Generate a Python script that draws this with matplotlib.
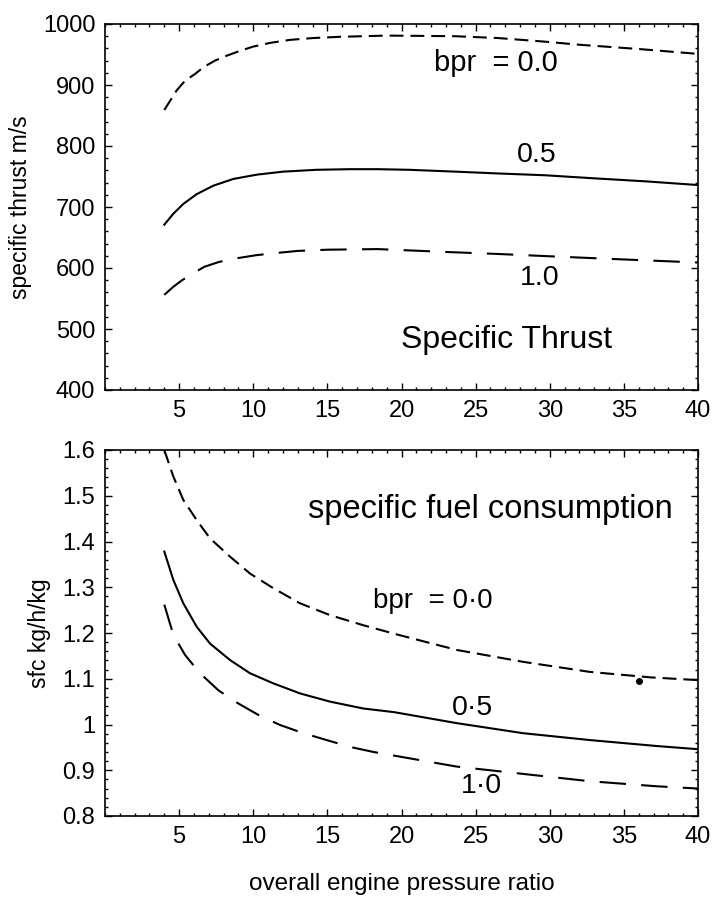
import matplotlib
matplotlib.use("Agg")
import matplotlib.pyplot as plt
from matplotlib.ticker import MultipleLocator

plt.rcParams['font.family'] = ['Liberation Sans', 'DejaVu Sans']
plt.rcParams['lines.scale_dashes'] = False

# ---- data: specific thrust (m/s) vs overall pressure ratio ----
opr_t0 = [4.0, 4.83, 5.40, 6.07, 6.63, 7.42, 8.21, 9.11, 10.0, 11.13, 12.48, 14.05,
          15.85, 19.0, 23.6, 26.5, 29.7, 32.0, 36.0, 40.0]
thrust_bpr0 = [859, 891, 907, 918, 929, 940, 948, 956, 963, 969, 974, 977,
               979, 981, 980, 977, 971, 966, 959, 951]
opr_t5 = [4.0, 4.61, 5.28, 6.18, 7.31, 8.66, 10.23, 12.03, 14.28, 16.53, 18.4, 20.5,
          23.6, 26.5, 29.7, 33.0, 36.5, 40.0]
thrust_bpr05 = [671, 689, 705, 721, 735, 746, 753, 758, 761, 762, 762, 761,
                758, 755, 752, 747, 742, 736]
opr_t1 = [4.0, 4.6, 5.2, 6.0, 6.7, 7.7, 8.9, 10.2, 11.3, 13.0, 15.0, 18.4,
          23.3, 26.5, 30.2, 35.0, 40.0]
thrust_bpr10 = [556, 569, 580, 592, 602, 610, 616, 621, 624, 628, 630, 631,
                626, 623, 619, 614, 609]

# ---- data: sfc (kg/h/kg) vs overall pressure ratio ----
opr_s0 = [4.0, 4.61, 5.28, 6.18, 7.08, 8.43, 9.78, 11.35, 13.15, 15.18, 17.42, 19.67,
          23.72, 28.2, 32.7, 36.8, 40.0]
sfc_bpr0 = [1.600, 1.542, 1.491, 1.447, 1.407, 1.367, 1.330, 1.298, 1.265, 1.239, 1.217, 1.197,
            1.163, 1.137, 1.115, 1.103, 1.097]
opr_s5 = [4.0, 4.61, 5.28, 6.18, 7.08, 8.43, 9.78, 11.35, 13.15, 15.18, 17.42, 19.5,
          23.72, 28.2, 32.7, 37.2, 40.0]
sfc_bpr05 = [1.378, 1.316, 1.265, 1.214, 1.177, 1.141, 1.112, 1.090, 1.068, 1.050, 1.035, 1.027,
             1.003, 0.981, 0.966, 0.953, 0.946]
opr_s1 = [4.0, 4.61, 5.40, 6.41, 7.64, 8.99, 10.34, 11.80, 13.38, 14.95, 16.53, 18.1, 19.5,
          23.72, 28.2, 32.7, 37.2, 40.0]
sfc_bpr10 = [1.262, 1.196, 1.152, 1.112, 1.075, 1.046, 1.021, 0.999, 0.981, 0.966, 0.951, 0.940, 0.932,
             0.908, 0.892, 0.876, 0.865, 0.860]

dot_opr = [36.0]
dot_sfc = [1.094]

xticks = [5, 10, 15, 20, 25, 30, 35, 40]

fig = plt.figure(figsize=(7.12, 8.97), dpi=100)
ax1 = fig.add_axes([105/712, 1 - 390/897, 593/712, 366/897])
ax2 = fig.add_axes([105/712, 1 - 816/897, 593/712, 366/897])

short = (0, (10, 5))
long_ = (0, (19, 11))
lw = 1.5

ax1.plot(opr_t0, thrust_bpr0, color='black', lw=lw, linestyle=short)
ax1.plot(opr_t5, thrust_bpr05, color='black', lw=lw, linestyle='-')
ax1.plot(opr_t1, thrust_bpr10, color='black', lw=lw, linestyle=long_)

ax2.plot(opr_s0, sfc_bpr0, color='black', lw=lw, linestyle=short)
ax2.plot(opr_s5, sfc_bpr05, color='black', lw=lw, linestyle='-')
ax2.plot(opr_s1, sfc_bpr10, color='black', lw=lw, linestyle=long_)
ax2.plot(dot_opr, dot_sfc, 'o', color='black', ms=4)

ax1.set_xlim(0, 40)
ax1.set_ylim(400, 1000)
ax1.yaxis.set_major_locator(MultipleLocator(100))
ax1.yaxis.set_minor_locator(MultipleLocator(20))
ax2.set_xlim(0, 40)
ax2.set_ylim(0.8, 1.6)
ax2.set_yticks([0.8, 0.9, 1.0, 1.1, 1.2, 1.3, 1.4, 1.5, 1.6])
ax2.set_yticklabels(['0.8', '0.9', '1', '1.1', '1.2', '1.3', '1.4', '1.5', '1.6'])
ax2.yaxis.set_minor_locator(MultipleLocator(0.02))

for ax in (ax1, ax2):
    ax.set_xticks(xticks)
    ax.set_xticklabels([str(v) for v in xticks])
    ax.xaxis.set_minor_locator(MultipleLocator(1))
    ax.tick_params(which='both', direction='in', top=True, right=True,
                   labelsize=17, pad=7, width=1)
    ax.tick_params(which='major', length=5)
    ax.tick_params(which='minor', length=2.5)
    for s in ax.spines.values():
        s.set_linewidth(1.2)

ax1.set_ylabel('specific thrust m/s', fontsize=16.5, labelpad=8)
ax2.set_ylabel('sfc kg/h/kg', fontsize=16.5, labelpad=8)
ax2.set_xlabel('overall engine pressure ratio', fontsize=17.5, labelpad=18)

ax1.text(22.2, 936, 'bpr  = 0.0', fontsize=21, va='center', ha='left')
ax1.text(29.1, 785, '0.5', fontsize=20.5, va='center', ha='center')
ax1.text(29.3, 583, '1.0', fontsize=20.5, va='center', ha='center')
ax1.text(27.1, 482, 'Specific Thrust', fontsize=23, va='center', ha='center')

ax2.text(26.0, 1.469, 'specific fuel consumption', fontsize=23.5, va='center', ha='center')
ax2.text(18.1, 1.270, 'bpr  = 0·0', fontsize=20, va='center', ha='left')
ax2.text(24.8, 1.037, '0·5', fontsize=20.5, va='center', ha='center')
ax2.text(25.4, 0.866, '1·0', fontsize=20.5, va='center', ha='center')

fig.savefig('out.png', dpi=100)
